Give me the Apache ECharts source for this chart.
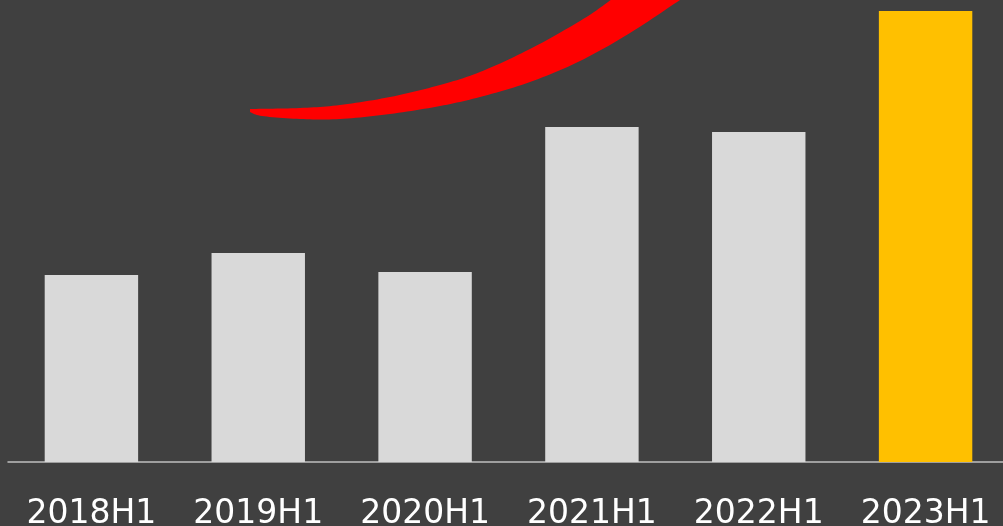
<!DOCTYPE html>
<html>
<head>
<meta charset="utf-8">
<script src="https://cdn.jsdelivr.net/npm/echarts@6/dist/echarts.min.js"></script>
<style>html,body{margin:0;padding:0;background:#404040;}#c{width:1003px;height:526px;}</style>
</head>
<body>
<div id="c"></div>
<script>
const categories = ['2018H1', '2019H1', '2020H1', '2021H1', '2022H1', '2023H1'];
const values = [187, 209, 190, 335, 330, 451];
const barColors = ['#d9d9d9', '#d9d9d9', '#d9d9d9', '#d9d9d9', '#d9d9d9', '#ffc000'];

// decorative red swoosh outline (pixel positions of the ornament, not data)
const swooshTop = [[250,109],[300,108],[340,105],[390,97],[440,85],[480,72],[530,49],[580,21],[608,2],[620,-8]];
const swooshBottom = [[692,-8],[680,0],[630,33],[580,61],[530,82],[480,97],[440,106],[390,114],[340,119],[300,119],[262,116],[250,112]];

function catmull(pts, steps) {
  const out = [];
  for (let i = 0; i < pts.length - 1; i++) {
    const p0 = pts[Math.max(i - 1, 0)], p1 = pts[i], p2 = pts[i + 1], p3 = pts[Math.min(i + 2, pts.length - 1)];
    for (let s = 0; s < steps; s++) {
      const t = s / steps, t2 = t * t, t3 = t2 * t;
      out.push([0, 1].map(k => 0.5 * ((2 * p1[k]) + (-p0[k] + p2[k]) * t +
        (2 * p0[k] - 5 * p1[k] + 4 * p2[k] - p3[k]) * t2 +
        (-p0[k] + 3 * p1[k] - 3 * p2[k] + p3[k]) * t3)));
    }
  }
  out.push(pts[pts.length - 1]);
  return out;
}
const swoosh = catmull(swooshTop, 12).concat(catmull(swooshBottom, 12));

const chart = echarts.init(document.getElementById('c'));
chart.setOption({
  backgroundColor: '#404040',
  animation: false,
  grid: { left: 8, width: 1001, top: 2, bottom: 64, containLabel: false, outerBoundsMode: 'none' },
  xAxis: {
    type: 'category',
    data: categories,
    axisTick: { show: false },
    axisLine: { lineStyle: { color: '#bfbfbf', width: 1.5 } },
    axisLabel: { color: '#ffffff', fontSize: 33, fontFamily: 'DejaVu Sans', margin: 36, interval: 0 }
  },
  yAxis: { type: 'value', min: 0, max: 460, show: false, splitLine: { show: false } },
  series: [{
    type: 'bar',
    data: values.map((v, i) => ({ value: v, itemStyle: { color: barColors[i] } })),
    barCategoryGap: '44%'
  }],
  graphic: [{
    type: 'polygon',
    shape: { points: swoosh },
    style: { fill: '#ff0000' }
  }]
});
</script>
</body>
</html>
